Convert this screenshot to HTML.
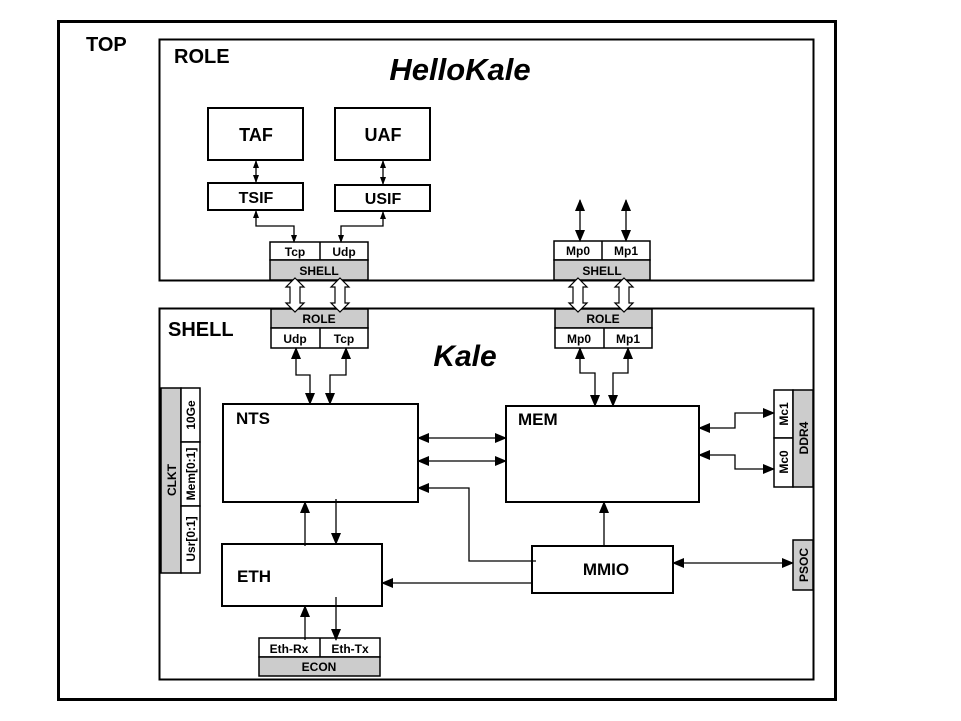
<!DOCTYPE html>
<html><head><meta charset="utf-8"><style>html,body{margin:0;padding:0;background:#fff}svg{display:block}text{font-family:"Liberation Sans",Arial,sans-serif;font-weight:bold;fill:#000}</style></head><body>
<svg width="961" height="721" viewBox="0 0 961 721" xmlns="http://www.w3.org/2000/svg">
<defs>
<marker id="a" markerUnits="userSpaceOnUse" markerWidth="12" markerHeight="10" refX="11" refY="5" orient="auto-start-reverse"><path d="M0,0 L12,5 L0,10 z" fill="#000"/></marker>
<marker id="s" markerUnits="userSpaceOnUse" markerWidth="8" markerHeight="6" refX="7" refY="3" orient="auto-start-reverse"><path d="M0,0 L8,3 L0,6 z" fill="#000"/></marker>
</defs>
<rect x="58.5" y="21.5" width="777" height="678" fill="none" stroke="#000" stroke-width="3"/>
<text x="86" y="51" font-size="20">TOP</text>
<rect x="159.5" y="39.5" width="654" height="241" fill="none" stroke="#000" stroke-width="2"/>
<text x="174" y="63" font-size="20">ROLE</text>
<text x="460" y="80" font-size="31" font-style="italic" text-anchor="middle">HelloKale</text>
<rect x="159.5" y="308.5" width="654" height="371" fill="none" stroke="#000" stroke-width="2"/>
<text x="168" y="336" font-size="20">SHELL</text>
<text x="465" y="366" font-size="30" font-style="italic" text-anchor="middle">Kale</text>
<g fill="#fff" stroke="#000" stroke-width="2">
<rect x="208" y="108" width="95" height="52"/><rect x="335" y="108" width="95" height="52"/>
<rect x="208" y="183" width="95" height="27"/><rect x="335" y="185" width="95" height="26"/>
<rect x="223" y="404" width="195" height="98"/><rect x="506" y="406" width="193" height="96"/>
<rect x="222" y="544" width="160" height="62"/><rect x="532" y="546" width="141" height="47"/>
</g>
<g font-size="18" text-anchor="middle"><text x="256" y="141">TAF</text><text x="383" y="141">UAF</text></g>
<g font-size="16" text-anchor="middle"><text x="256" y="203">TSIF</text><text x="383" y="204">USIF</text></g>
<g font-size="17"><text x="236" y="424">NTS</text><text x="518" y="425">MEM</text><text x="237" y="582">ETH</text><text x="606" y="575" text-anchor="middle">MMIO</text></g>
<g stroke="#000" stroke-width="1.5">
<rect x="270" y="242" width="98" height="18" fill="#fff"/><rect x="270" y="260" width="98" height="20" fill="#ccc"/><line x1="320" y1="242" x2="320" y2="260"/>
<rect x="271" y="309" width="97" height="19" fill="#ccc"/><rect x="271" y="328" width="97" height="20" fill="#fff"/><line x1="320" y1="328" x2="320" y2="348"/>
<rect x="554" y="241" width="96" height="19" fill="#fff"/><rect x="554" y="260" width="96" height="20" fill="#ccc"/><line x1="602" y1="241" x2="602" y2="260"/>
<rect x="555" y="309" width="97" height="19" fill="#ccc"/><rect x="555" y="328" width="97" height="20" fill="#fff"/><line x1="604" y1="328" x2="604" y2="348"/>
<rect x="259" y="638" width="121" height="19" fill="#fff"/><rect x="259" y="657" width="121" height="19" fill="#ccc"/><line x1="320" y1="638" x2="320" y2="657"/>
<rect x="774" y="390" width="19" height="48" fill="#fff"/><rect x="774" y="438" width="19" height="49" fill="#fff"/><rect x="793" y="390" width="20" height="97" fill="#ccc"/>
<rect x="793" y="540" width="20" height="50" fill="#ccc"/>
<rect x="161" y="388" width="20" height="185" fill="#ccc"/>
<rect x="181" y="388" width="19" height="54" fill="#fff"/><rect x="181" y="442" width="19" height="64" fill="#fff"/><rect x="181" y="506" width="19" height="67" fill="#fff"/>
</g>
<g font-size="12" text-anchor="middle">
<text x="295" y="256">Tcp</text><text x="344" y="256">Udp</text><text x="319" y="275">SHELL</text>
<text x="319" y="323">ROLE</text><text x="295" y="343">Udp</text><text x="344" y="343">Tcp</text>
<text x="578" y="255">Mp0</text><text x="626" y="255">Mp1</text><text x="602" y="275">SHELL</text>
<text x="603" y="323">ROLE</text><text x="579" y="343">Mp0</text><text x="628" y="343">Mp1</text>
<text x="289" y="653" font-weight="normal">Eth-Rx</text><text x="350" y="653" font-weight="normal">Eth-Tx</text><text x="319" y="671" font-weight="normal">ECON</text>
<text transform="translate(788,414) rotate(-90)">Mc1</text><text transform="translate(788,462) rotate(-90)">Mc0</text>
<text transform="translate(808,438) rotate(-90)">DDR4</text><text transform="translate(808,565) rotate(-90)">PSOC</text>
<text transform="translate(176,480) rotate(-90)">CLKT</text>
<text transform="translate(195,415) rotate(-90)">10Ge</text><text transform="translate(195,474) rotate(-90)">Mem[0:1]</text><text transform="translate(195,539) rotate(-90)">Usr[0:1]</text>
</g>
<g fill="#fff" stroke="#000" stroke-width="1.2">
<path d="M295,278 L304,287 L300,287 L300,303 L304,303 L295,312 L286,303 L290,303 L290,287 L286,287 Z"/>
<path d="M340,278 L349,287 L345,287 L345,303 L349,303 L340,312 L331,303 L335,303 L335,287 L331,287 Z"/>
<path d="M578,278 L587,287 L583,287 L583,303 L587,303 L578,312 L569,303 L573,303 L573,287 L569,287 Z"/>
<path d="M624,278 L633,287 L629,287 L629,303 L633,303 L624,312 L615,303 L619,303 L619,287 L615,287 Z"/>
</g>
<g fill="none" stroke="#000" stroke-width="1.3">
<path d="M256,161 L256,182" marker-start="url(#s)" marker-end="url(#s)"/>
<path d="M383,161 L383,184" marker-start="url(#s)" marker-end="url(#s)"/>
<path d="M256,211 L256,226 L294,226 L294,242" marker-start="url(#s)" marker-end="url(#s)"/>
<path d="M383,212 L383,226 L341,226 L341,242" marker-start="url(#s)" marker-end="url(#s)"/>
<path d="M580,200 L580,241" marker-start="url(#a)" marker-end="url(#a)"/>
<path d="M626,200 L626,241" marker-start="url(#a)" marker-end="url(#a)"/>
<path d="M296,348 L296,375 L310,375 L310,404" marker-start="url(#a)" marker-end="url(#a)"/>
<path d="M346,348 L346,375 L330,375 L330,404" marker-start="url(#a)" marker-end="url(#a)"/>
<path d="M580,348 L580,373 L595,373 L595,406" marker-start="url(#a)" marker-end="url(#a)"/>
<path d="M628,348 L628,373 L613,373 L613,406" marker-start="url(#a)" marker-end="url(#a)"/>
<path d="M418,438 L506,438" marker-start="url(#a)" marker-end="url(#a)"/>
<path d="M418,461 L506,461" marker-start="url(#a)" marker-end="url(#a)"/>
<path d="M536,561 L469,561 L469,488 L418,488" marker-end="url(#a)"/>
<path d="M532,583 L382,583" marker-end="url(#a)"/>
<path d="M305,546 L305,502" marker-end="url(#a)"/>
<path d="M336,499 L336,544" marker-end="url(#a)"/>
<path d="M305,640 L305,606" marker-end="url(#a)"/>
<path d="M336,597 L336,640" marker-end="url(#a)"/>
<path d="M604,546 L604,502" marker-end="url(#a)"/>
<path d="M699,428 L735,428 L735,413 L774,413" marker-start="url(#a)" marker-end="url(#a)"/>
<path d="M699,455 L735,455 L735,469 L774,469" marker-start="url(#a)" marker-end="url(#a)"/>
<path d="M673,563 L793,563" marker-start="url(#a)" marker-end="url(#a)"/>
</g>
</svg>
</body></html>
